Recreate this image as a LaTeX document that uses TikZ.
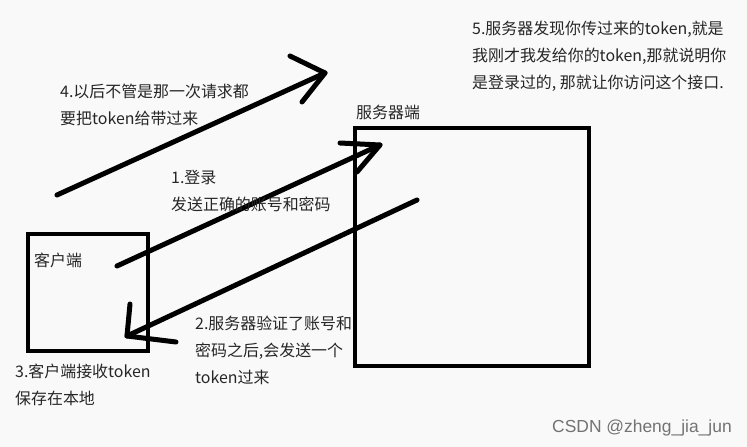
\documentclass[tikz,border=0pt]{standalone}
\usepackage{fontspec}
\newfontfamily\cjk{Noto Sans CJK SC}
\newfontfamily\wm{Liberation Sans}
\begin{document}
\begin{tikzpicture}[x=1bp,y=-1bp,
  boxline/.style={draw=black,line width=4.5bp,minimum width=0,inner sep=0},
  stroke/.style={draw=black,line width=5bp,line cap=round,line join=round},
  label/.style={inner sep=0,anchor=north west,align=left,font=\cjk\fontsize{16}{27}\selectfont,text=black!85}]
\fill[fill={rgb,255:red,249;green,249;blue,250}] (0,0) rectangle (747,447);
\useasboundingbox (0,0) rectangle (747,447);
% boxes
\draw[boxline] (28,234) rectangle (148,351);
\draw[boxline] (355,128) rectangle (589,366);
\coordinate (client) at (88,292);
\coordinate (server) at (472,247);
% arrow 1: login
\coordinate (a1s) at (117,266);
\coordinate (a1e) at (380,145);
\draw[stroke] (a1s) -- (a1e);
\draw[stroke] (340,143) -- (a1e) -- (357,172);
% arrow 2: token back
\coordinate (a2s) at (417,200);
\coordinate (a2e) at (127,336);
\draw[stroke] (a2s) -- (a2e);
\draw[stroke] (130,304) -- (a2e) -- (176,342);
% arrow 4
\coordinate (a4s) at (57,195);
\coordinate (a4e) at (325,73);
\draw[stroke] (a4s) -- (a4e);
\draw[stroke] (290,56) -- (a4e) -- (302,102);
% texts
\node[label] (t4) at (60,84) {4.以后不管是那一次请求都\\要把token给带过来};
\node[label] (t1) at (171,170) {1.登录\\发送正确的账号和密码};
\node[label] (tc) at (34,253) {客户端};
\node[label] (ts) at (356,105) {服务器端};
\node[label] (t5) at (472,21) {5.服务器发现你传过来的token,就是\\我刚才我发给你的token,那就说明你\\是登录过的, 那就让你访问这个接口.};
\node[label] (t2) at (195,316) {2.服务器验证了账号和\\密码之后,会发送一个\\token过来};
\node[label] (t3) at (15,364) {3.客户端接收token\\保存在本地};
\node[inner sep=0,anchor=west,font=\wm\fontsize{17.5}{20}\selectfont,text=black!55] (wm) at (552,428) {CSDN @zheng\_jia\_jun};
\end{tikzpicture}
\end{document}
